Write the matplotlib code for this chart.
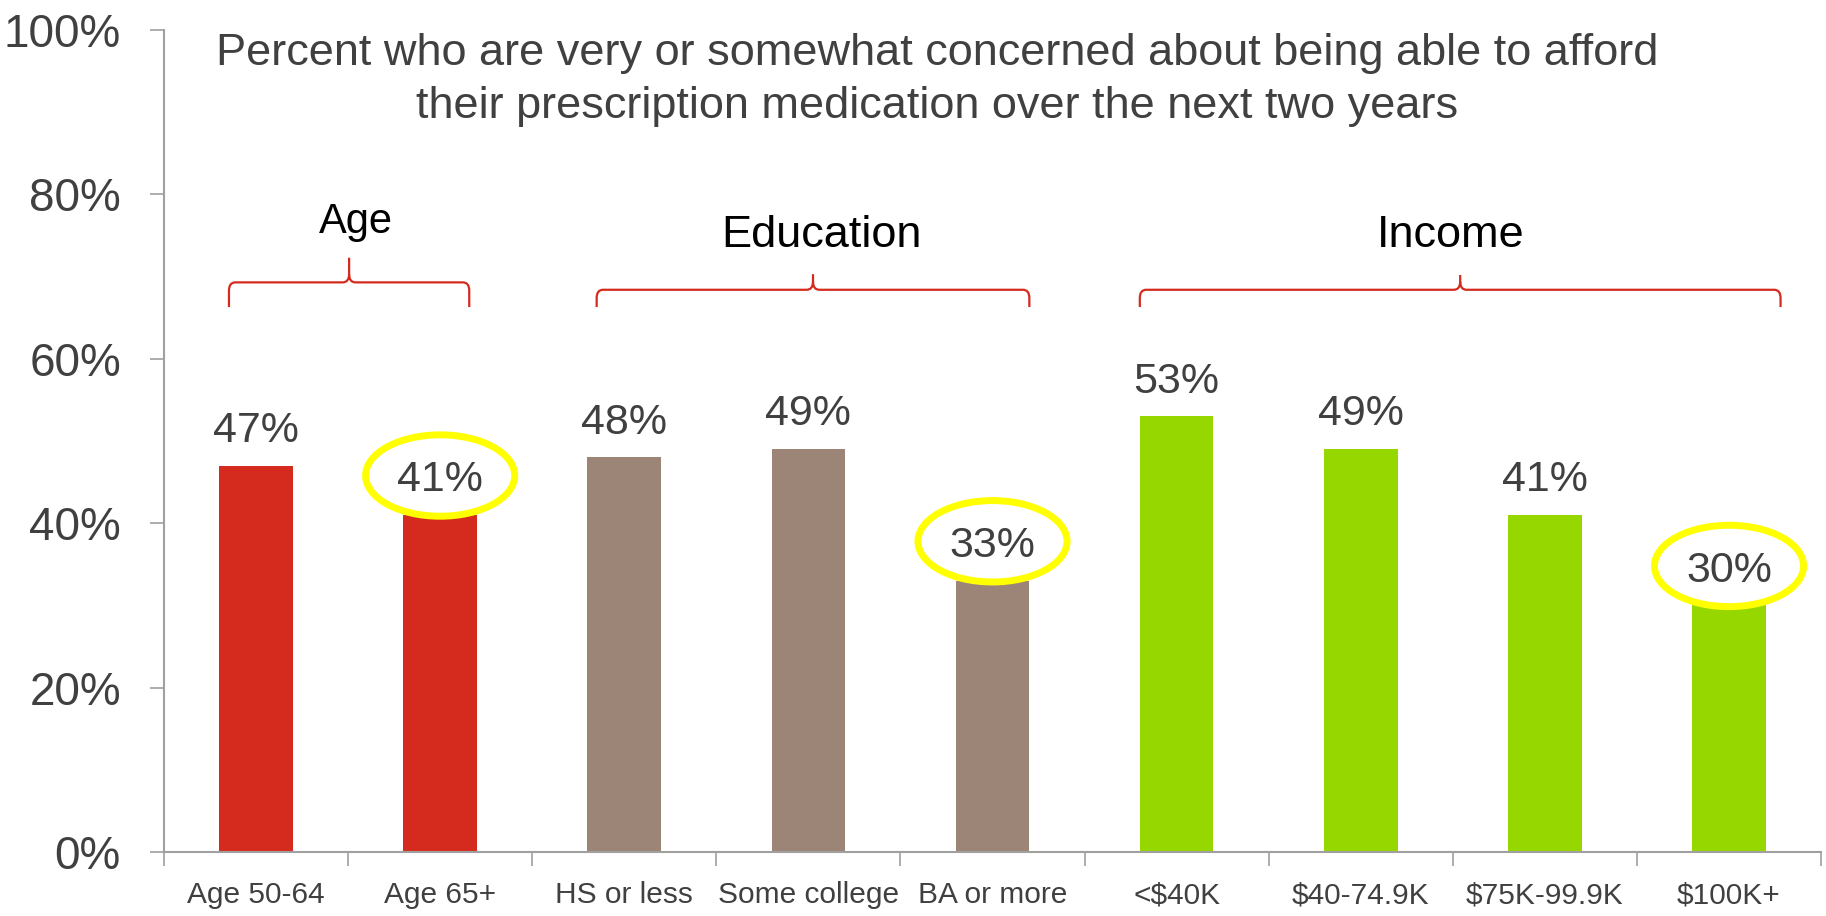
import numpy as np
import matplotlib
matplotlib.use("Agg")
import matplotlib.pyplot as plt
from matplotlib.patches import Ellipse, PathPatch
from matplotlib.path import Path

# ================================================
# Data
# ================================================
categories = ["Age 50-64", "Age 65+", "HS or less", "Some college", "BA or more",
              "<$40K", "$40-74.9K", "$75K-99.9K", "$100K+"]
values = [47, 41, 48, 49, 33, 53, 49, 41, 30]
groups = ["Age", "Education", "Income"]
group_members = [[0, 1], [2, 3, 4], [5, 6, 7, 8]]
circled = [1, 4, 8]
title = ("Percent who are very or somewhat concerned about being able to afford\n"
         "their prescription medication over the next two years")

group_colors = ["#D52B1E", "#9C8577", "#97D700"]
bracket_color = "#D52B1E"
text_color = "#404040"
axis_color = "#A0A0A0"

plt.rcParams['font.family'] = ['Liberation Sans', 'DejaVu Sans']

fig = plt.figure(figsize=(18.26, 9.16), dpi=100)
ax = fig.add_axes([0.0898, 0.0699, 0.9075, 0.8973])

x = np.arange(len(categories))
bar_colors = []
for g, members in enumerate(group_members):
    bar_colors += [group_colors[g]] * len(members)

ax.bar(x, values, width=0.4, color=bar_colors, zorder=2)

# value labels
for i, v in enumerate(values):
    ax.text(i, v + 1.8, f"{v}%", ha="center", va="bottom", fontsize=31,
            color=text_color, zorder=4)

# yellow rings around the lowest value in each group
for i in circled:
    ax.add_patch(Ellipse((i, values[i] + 4.8), 0.81, 9.9, fill=False,
                         edgecolor="#FFFF00", lw=5, zorder=3))


# ================================================
# Curly brackets over each group
# ================================================
def bracket(x0, x1, y_end, y_mid, y_peak):
    xc = (x0 + x1) / 2
    dx = 0.035
    dy = 1.0
    verts = [(x0, y_end), (x0, y_mid - dy), (x0, y_mid), (x0 + dx, y_mid),
             (xc - dx, y_mid), (xc, y_mid), (xc, y_mid + dy), (xc, y_peak),
             (xc, y_mid + dy), (xc, y_mid), (xc + dx, y_mid),
             (x1 - dx, y_mid), (x1, y_mid), (x1, y_mid - dy), (x1, y_end)]
    codes = [Path.MOVETO, Path.LINETO, Path.CURVE3, Path.CURVE3,
             Path.LINETO, Path.CURVE3, Path.CURVE3, Path.LINETO,
             Path.MOVETO, Path.CURVE3, Path.CURVE3,
             Path.LINETO, Path.CURVE3, Path.CURVE3, Path.LINETO]
    ax.add_patch(PathPatch(Path(verts, codes), fill=False, edgecolor=bracket_color,
                           lw=1.6, zorder=3))


bracket(-0.147, 1.158, 66.3, 69.3, 72.3)
bracket(1.85, 4.20, 66.3, 68.4, 70.3)
bracket(4.80, 8.28, 66.3, 68.4, 70.2)

ax.text(0.54, 76.6, groups[0], ha="center", va="center", fontsize=30, color="black")
ax.text(3.07, 75.0, groups[1], ha="center", va="center", fontsize=32.5, color="black")
ax.text(6.49, 75.0, groups[2], ha="center", va="center", fontsize=32.5, color="black")

# chart title inside the plot area
ax.text(3.7, 93.9, title, ha="center", va="center", fontsize=32.5,
        color=text_color, linespacing=1.37)

# ================================================
# Axes styling
# ================================================
ax.set_xlim(-0.5, len(categories) - 0.5)
ax.set_ylim(0, 100)

ax.set_yticks(np.arange(0, 101, 20))
ax.set_yticklabels([f"{t}%" for t in range(0, 101, 20)])
ax.tick_params(axis="y", length=10, width=1.2, color=axis_color, pad=21,
               labelsize=33, labelcolor=text_color)

ax.set_xticks(x)
ax.set_xticklabels(categories)
ax.tick_params(axis="x", which="major", length=0, pad=21, labelsize=21.5,
               labelcolor=text_color)
ax.set_xticks(np.arange(-0.5, len(categories), 1.0), minor=True)
ax.tick_params(axis="x", which="minor", length=10, width=1.2, color=axis_color)

for side in ["top", "right"]:
    ax.spines[side].set_visible(False)
for side in ["left", "bottom"]:
    ax.spines[side].set_color(axis_color)
    ax.spines[side].set_linewidth(1.5)

fig.savefig("out.png", dpi=100)
